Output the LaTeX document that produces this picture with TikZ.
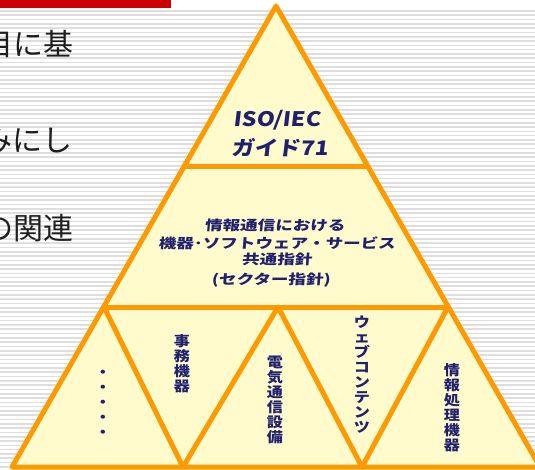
\documentclass[tikz,border=0pt]{standalone}
\usepackage{fontspec}
\newfontfamily\jpfont{Noto Sans CJK JP}
\newfontfamily\jpb[FakeSlant=0.12,FakeStretch=1.15]{Noto Sans CJK JP}
\newfontfamily\jpw[FakeSlant=0.08,FakeStretch=1.3]{Noto Sans CJK JP}
\newfontfamily\jpv[FakeStretch=1.15]{Noto Sans CJK JP}
\definecolor{stripegray}{RGB}{222,222,222}
\definecolor{barred}{RGB}{204,0,0}
\definecolor{pyrfill}{RGB}{255,251,204}
\definecolor{pyrline}{RGB}{255,153,0}
\definecolor{navy}{RGB}{32,32,112}
\definecolor{bodytext}{RGB}{30,30,30}
\tikzset{
  stripe/.style={stripegray,line width=1.6pt},
  pyr/.style={pyrline,line width=5pt,line join=round},
  lefttext/.style={anchor=east,inner sep=0pt,text=bodytext,font=\jpfont\fontsize{30}{30}\selectfont},
  toptext/.style={inner sep=0pt,text=navy,font=\jpb\bfseries\fontsize{20}{20}\selectfont},
  midtext/.style={inner sep=0pt,text=navy,font=\jpw\bfseries\fontsize{13.5}{13.5}\selectfont},
  vtext/.style={inner sep=0pt,align=center,text=navy,font=\jpv\bfseries\fontsize{14}{15}\selectfont},
}
\begin{document}
\begin{tikzpicture}[x=1pt,y=-1pt]
\useasboundingbox (0,0) rectangle (535,470);
\clip (0,0) rectangle (535,470);
\fill[white] (0,0) rectangle (535,470);
\foreach \k in {0,...,107} {
  \draw[stripe] (0,{11+4.3*\k}) -- (535,{11+4.3*\k});
}
\fill[barred] (0,0) rectangle (171,8.5);
% left text
\node[lefttext] (t1) at (74,44) {項目に基};
\node[lefttext] (t2) at (73,140) {組みにし};
\node[lefttext] (t3) at (74,228) {との関連};
% pyramid
\coordinate (apex) at (276,6);
\coordinate (bl) at (12,467);
\coordinate (br) at (540,467);
\coordinate (l1) at (184,167);
\coordinate (r1) at (368,167);
\coordinate (l2) at (104,307);
\coordinate (m2) at (278,307);
\coordinate (r2) at (448,307);
\coordinate (b1) at (183,467);
\coordinate (b2) at (362,467);
\fill[pyrfill] (apex) -- (br) -- (bl) -- cycle;
\draw[pyr] (l1) -- (r1);
\draw[pyr] (l2) -- (r2);
\draw[pyr] (l2) -- (b1) -- (m2) -- (b2) -- (r2);
\draw[pyr] (apex) -- (br) -- (bl) -- cycle;
% top
\node[toptext] (iso) at (277,120) {ISO/IEC};
\node[toptext] (guide) at (280,148) {ガイド71};
% middle
\node[midtext] (m1) at (275,225) {情報通信における};
\node[midtext] (m2t) at (277,243) {機器･ソフトウェア・サービス};
\node[midtext] (m3) at (277,259) {共通指針};
\node[midtext] (m4) at (271,280) {(セクター指針)};
% bottom verticals
\node[vtext] (d) at (103,404) {・\\・\\・\\・\\・};
\node[vtext] (v1) at (182,364) {事\\務\\機\\器};
\node[vtext] (v2) at (275,400) {電\\気\\通\\信\\設\\備};
\node[vtext] (v3) at (362,375) {ウ\\ェ\\ブ\\コ\\ン\\テ\\ン\\ツ};
\node[vtext] (v4) at (452,408) {情\\報\\処\\理\\機\\器};
\end{tikzpicture}
\end{document}
